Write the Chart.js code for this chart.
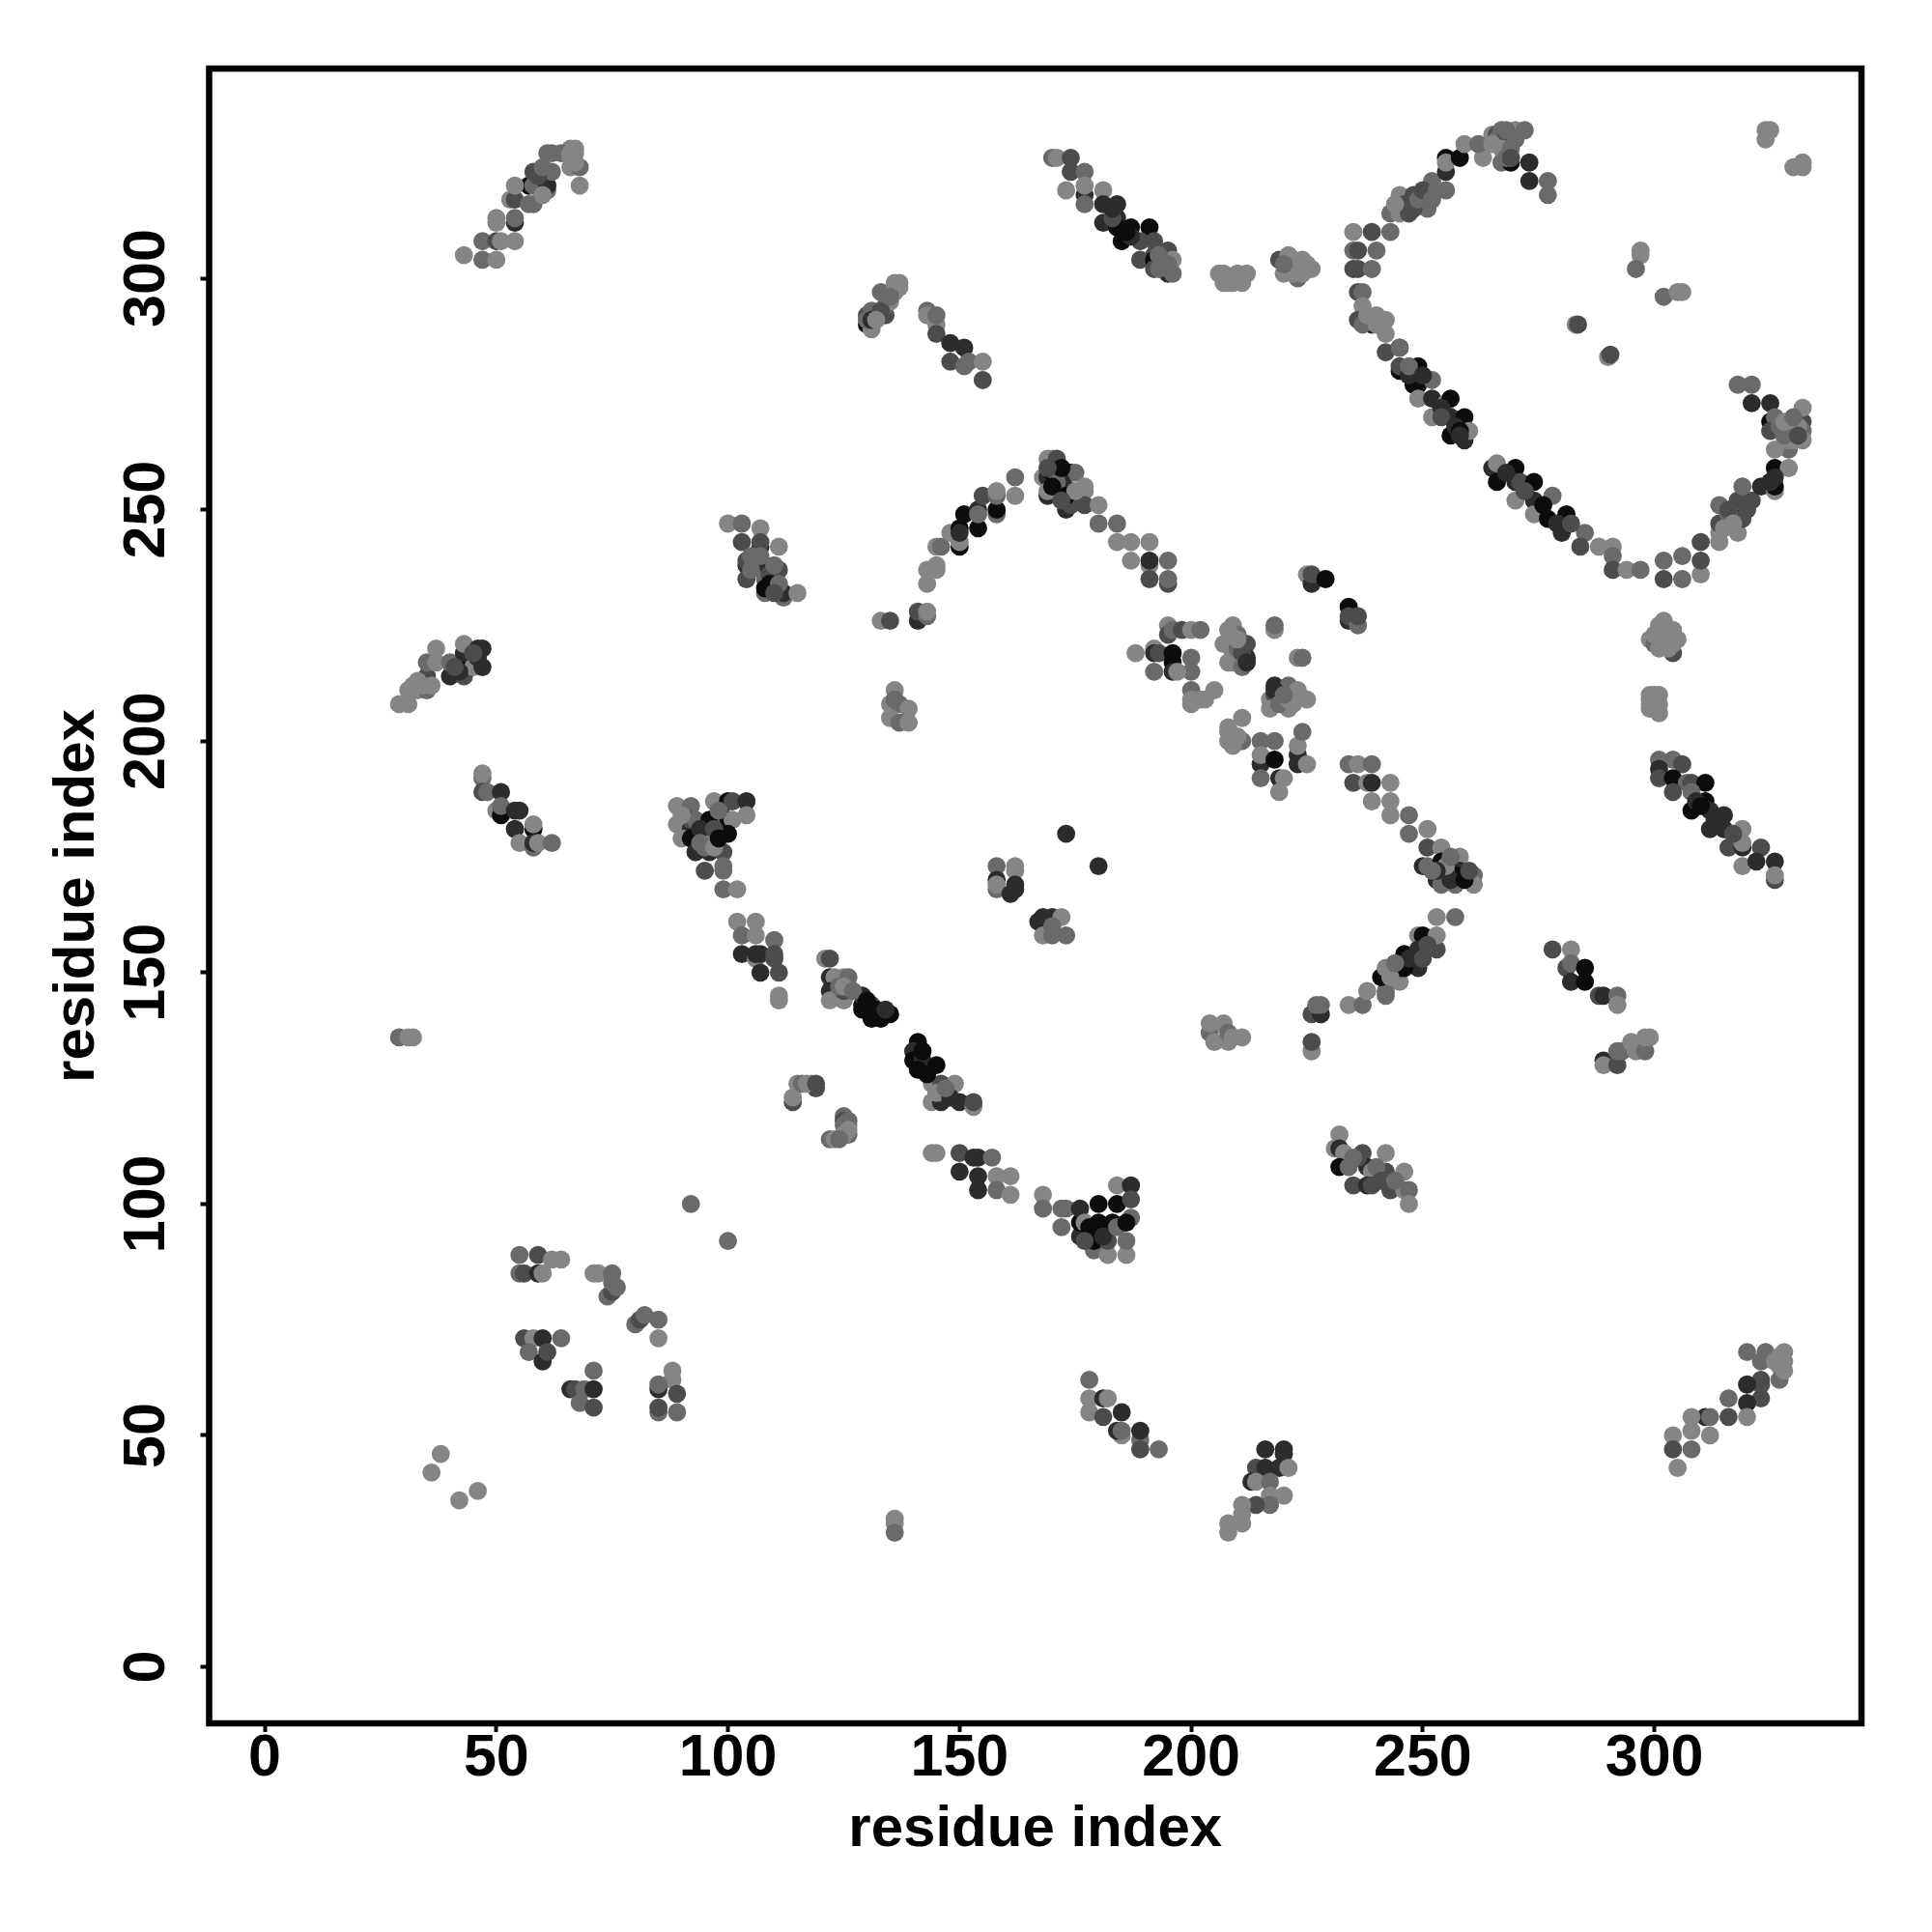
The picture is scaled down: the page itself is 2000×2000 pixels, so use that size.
<!DOCTYPE html>
<html>
<head>
<meta charset="utf-8">
<script src="https://cdn.jsdelivr.net/npm/chart.js@4/dist/chart.umd.min.js"></script>
<style>
  html, body { margin: 0; padding: 0; background: #fff; }
  #wrap { width: 2000px; height: 2000px; }
</style>
</head>
<body>
<div id="wrap"><canvas id="contactMap" width="2000" height="2000"></canvas></div>
<script>
// tick labels
const xTicks = [0, 50, 100, 150, 200, 250, 300];
const yTicks = [0, 50, 100, 150, 200, 250, 300];

// gray levels, the third value of each point is an index in here
const shades = ['#0c0c0c', '#2c2c2c', '#4c4c4c', '#6a6a6a', '#858585'];

// contacts per region: [x, y, shade], later points lie on top
const underlayUpper = [[59,322,2],[60,318,4],[64,327,3],[66,327,4],[67,327,4],[67,325,4],[66,326,4],[60,324,3],[130,291,3],[131,291,1],[133,293,2],[135,296,3],[132,291,4],[105,240,3],[105,237,3],[107,240,3],[109,236,2],[110,238,3],[109,234,0],[111,234,3],[110,232,2],[172,256,1],[171,256,3],[170,255,0],[173,253,0],[175,254,4],[172,259,0],[169,259,2],[172,252,2],[187,309,1],[186,310,0],[183,313,2],[183,315,1],[193,305,3],[193,302,3],[195,303,3],[208,300,4],[209,300,4],[207,301,4],[208,299,4],[209,299,4],[221,302,4],[222,304,4],[222,301,4],[224,301,4],[220,303,3],[225,303,4]];
const underlayRing = [[247,279,1],[247,281,3],[254,272,1],[254,270,2],[257,268,1],[258,267,0],[258,266,1],[250,279,1],[268,258,1],[272,254,2],[276,251,0],[279,247,1],[282,247,2],[316,249,3],[316,250,2],[315,246,4],[317,247,4],[320,250,2],[326,257,1],[325,256,1],[246,316,2],[248,315,2],[244,316,4],[249,317,3],[250,319,2],[253,319,3],[252,317,3],[237,290,3],[238,292,4],[240,290,4],[330,266,3],[331,268,4],[329,265,4],[328,266,3],[331,266,2],[327,268,3],[328,269,4],[330,270,3],[266,330,3],[268,330,3],[268,331,2],[267,328,4],[269,328,3],[268,326,3],[265,329,4],[268,332,3],[270,330,3],[269,326,2]];
const underlayMiddle = [[218,211,1],[217,207,4],[219,208,3],[221,209,4],[222,208,4],[220,210,3],[209,201,4],[208,203,4],[210,201,4],[209,199,4],[208,224,4],[209,219,4],[209,217,4],[210,220,3],[211,219,2],[211,216,3],[212,217,1],[210,222,4],[301,225,4],[302,222,4],[303,222,4],[301,220,4],[303,220,4],[300,223,4],[305,222,4],[299,208,4],[301,208,4],[300,210,4],[300,207,4],[33,213,4],[34,212,4],[36,212,4],[42,215,1],[41,216,2],[46,218,1],[45,219,2],[94,181,1],[97,181,2],[98,185,3],[90,184,4],[94,178,3],[97,177,4],[98,179,0],[255,172,2],[256,170,1],[255,173,4],[259,170,0],[253,172,1],[252,172,3],[256,175,3],[260,172,2],[309,187,1],[310,186,0],[313,183,1],[317,180,2]];
const underlayLower = [[124,147,3],[125,147,4],[127,146,3],[130,144,0],[132,142,0],[134,142,1],[146,124,2],[145,124,4],[148,123,1],[143,128,0],[142,133,0],[147,125,3],[116,126,3],[117,126,4],[119,126,2],[125,118,2],[126,118,3],[125,117,3],[126,116,4],[125,115,4],[124,114,3],[178,95,0],[177,92,2],[181,93,1],[184,95,3],[186,96,0],[247,153,1],[243,149,4],[244,152,3],[251,156,2],[250,153,2],[236,110,2],[235,110,3],[240,108,3],[241,105,2],[244,105,3],[327,66,4],[328,66,4],[328,64,4],[326,66,4],[328,68,4]];
const topLeft = [[43,305,4],[47,304,3],[50,304,4],[47,308,3],[50,308,2],[51,308,4],[54,308,4],[50,312,4],[50,313,4],[54,312,1],[54,313,3],[53,317,4],[54,317,2],[57,316,3],[58,316,3],[57,320,0],[54,320,4],[58,320,3],[61,319,3],[61,320,1],[58,323,2],[62,323,3],[61,327,3],[62,327,3],[65,327,4],[66,328,4],[67,328,4],[66,324,4],[68,324,3],[68,320,4]];
const hairpin130 = [[130,290,0],[130,292,2],[131,293,3],[134,292,2],[134,294,3],[131,289,4],[135,295,4],[133,297,3],[136,297,4],[136,299,4],[137,298,4],[137,299,4]];
const patch136 = [[136,211,4],[135,208,4],[137,208,3],[136,209,3],[139,207,4],[135,205,4],[137,204,3],[139,204,4]];
const strand143 = [[143,293,3],[143,292,4],[145,290,4],[145,292,3],[145,288,2],[148,286,1],[151,285,1],[148,282,2],[151,281,3],[152,282,3],[155,282,4],[155,278,2]];
const block100 = [[100,247,4],[103,247,3],[107,246,4],[103,243,2],[107,242,1],[107,243,2],[111,242,4],[104,238,1],[104,239,2],[108,238,1],[111,237,2],[104,235,2],[108,232,3],[108,235,3],[108,233,0],[112,231,3],[112,232,1],[115,232,4]];
const archLeft = [[133,226,4],[135,226,2],[141,226,1],[141,228,2],[143,227,3],[143,228,4],[143,234,4],[143,237,4],[145,237,4],[145,238,4],[145,242,4],[146,242,3],[148,245,4],[150,242,0],[150,243,4],[150,246,0],[150,245,1],[151,249,0],[154,246,0],[154,250,1],[154,249,3],[158,249,3],[158,250,0],[155,253,2],[158,253,3],[158,254,4],[162,253,4],[162,257,3]];
const archTop = [[169,261,4],[170,261,4],[171,261,2],[168,257,4],[169,253,1],[169,257,1],[170,258,0],[169,254,4],[174,258,0],[175,258,3],[171,254,4],[174,254,0],[173,250,1],[174,251,2],[177,254,4],[177,255,4],[177,251,2],[180,251,4]];
const archRight = [[180,247,3],[184,247,3],[184,243,4],[187,243,4],[191,243,4],[187,239,4],[191,238,4],[191,239,1],[195,239,3],[191,235,2],[195,234,2],[195,235,3]];
const pairs228 = [[225,236,4],[226,234,1],[226,236,2],[229,235,0],[234,229,0],[234,226,1],[234,227,2],[236,225,3],[236,227,2]];
const grid195 = [[195,225,4],[195,223,2],[196,224,3],[198,224,2],[200,224,4],[202,224,3],[188,219,4],[192,220,4],[192,219,1],[193,219,2],[196,217,0],[196,219,0],[200,218,3],[200,215,3],[192,215,3],[196,215,1],[197,215,4],[200,211,3],[205,211,4],[200,208,4],[200,209,4],[202,209,4],[203,209,4]];
const grid209 = [[209,225,4],[207,221,4],[209,221,4],[210,223,3],[212,221,2],[208,217,4],[210,217,3],[212,218,1],[218,224,4],[218,225,3],[223,218,4],[224,218,3],[217,209,4],[218,210,2],[218,212,1],[221,207,4],[221,212,3],[220,209,3],[223,211,4],[225,209,4]];
const grid215 = [[211,205,4],[208,202,4],[208,200,4],[211,200,3],[215,200,3],[218,200,3],[215,195,1],[215,197,4],[218,196,0],[215,192,3],[219,192,1],[220,192,4],[219,189,4],[223,197,1],[223,195,1],[223,199,4],[224,202,3],[225,195,4]];
const centre170 = [[173,180,1],[180,173,1],[158,173,3],[158,170,1],[158,168,3],[158,169,4],[162,173,4],[162,172,4],[162,169,1],[162,168,1],[161,167,1]];
const cluster166 = [[167,161,1],[168,162,1],[170,162,1],[172,162,4],[168,158,4],[170,160,3],[170,158,3],[173,158,3]];
const strand29 = [[29,208,4],[31,208,4],[31,211,4],[32,212,4],[33,211,4],[35,211,3],[35,214,2],[35,217,3],[37,217,4],[37,220,4],[40,214,1],[40,217,3],[43,214,2],[43,216,0],[43,219,1],[43,221,4],[45,216,4],[46,220,1],[47,220,1],[47,216,1]];
const strand47 = [[47,192,3],[47,193,4],[47,189,2],[48,189,3],[51,189,1],[50,185,4],[51,184,0],[51,186,3],[54,185,1],[55,185,1],[54,181,1],[58,181,0],[58,182,4],[55,178,4],[58,177,3],[58,178,1],[59,178,4],[62,178,3]];
const vBlock = [[89,186,4],[92,186,3],[97,187,4],[100,187,0],[101,187,2],[104,187,1],[104,184,4],[89,182,4],[92,181,1],[92,183,2],[93,183,3],[96,183,0],[100,183,0],[101,183,4],[90,179,4],[92,179,0],[96,179,0],[96,180,4],[100,180,0],[93,176,1],[96,176,1],[95,177,3],[99,176,2],[95,172,2],[99,172,3],[99,173,3],[99,168,3],[102,168,4]];
const block102 = [[102,161,4],[106,161,4],[103,158,3],[106,158,4],[110,157,3],[103,154,1],[106,153,4],[106,154,1],[107,154,1],[110,154,2],[110,153,2],[107,150,1],[111,150,2],[111,144,4],[111,145,4]];
const single136 = [[29,136,3],[31,136,4],[32,136,4],[136,32,4],[136,31,4],[136,29,3],[92,100,3],[100,92,3]];
const diag121 = [[121,153,4],[122,153,2],[122,149,1],[123,149,4],[125,149,4],[126,149,3],[122,146,1],[122,144,4],[125,144,4],[124,145,4],[125,146,2],[129,143,0],[129,145,1],[131,143,2],[129,142,0],[131,140,0],[133,141,1],[133,140,0],[135,141,0]];
const diag141 = [[141,135,0],[140,133,1],[140,131,0],[142,131,1],[141,129,0],[145,130,0],[144,126,4],[146,126,2],[149,126,4],[144,122,4],[146,122,1],[150,122,1],[153,121,4],[153,122,2]];
const side114 = [[115,126,4],[118,126,4],[119,125,2],[114,122,2],[114,123,4],[125,119,3],[126,117,4],[126,115,3],[122,114,3],[123,114,4]];
const diag145 = [[144,111,4],[145,111,4],[150,111,2],[150,107,1],[153,110,1],[154,110,1],[157,110,3],[154,106,1],[154,103,1],[158,106,4],[158,103,3],[161,106,4],[161,102,4]];
const vBlock180 = [[168,102,4],[168,99,3],[172,99,3],[173,99,3],[172,95,3],[176,93,1],[176,96,0],[176,99,1],[177,96,4],[180,100,0],[180,96,0],[179,90,3],[179,92,0],[182,89,4],[182,92,2],[184,100,0],[183,96,0],[184,104,4],[187,104,1],[187,97,3],[187,101,2],[186,89,4],[186,92,3]];
const block204 = [[204,137,3],[204,139,4],[207,139,4],[205,135,4],[208,135,4],[208,137,3],[209,136,4],[211,136,4],[226,133,4],[226,135,2],[226,141,2],[228,141,1],[227,143,3],[228,143,3]];
const strand234 = [[234,143,4],[237,143,3],[238,146,4],[242,145,3],[242,146,3],[241,149,0],[242,151,4],[245,148,4],[246,154,0],[245,151,0],[249,151,1],[246,151,0],[249,158,4],[250,158,0],[249,155,1],[253,155,2],[253,158,4],[253,162,4],[257,162,3]];
const tail278 = [[278,155,2],[282,155,4],[281,151,2],[282,152,3],[282,148,1],[285,151,0],[285,148,0],[288,145,2],[289,145,1],[292,145,3],[292,143,4]];
const block232 = [[232,115,4],[231,112,4],[232,112,1],[233,111,4],[232,108,0],[234,108,3],[237,111,2],[242,111,4],[238,108,1],[239,107,4],[242,107,2],[246,107,4],[235,104,2],[238,104,1],[239,104,2],[243,103,2],[246,103,4],[247,103,3],[247,100,4]];
const block290 = [[289,131,1],[289,130,4],[292,130,2],[292,133,3],[293,133,3],[295,135,4],[296,133,4],[298,133,3],[298,136,4],[299,136,4]];
const diag301 = [[301,196,3],[304,196,3],[301,194,1],[306,195,2],[301,192,2],[304,192,0],[307,191,3],[308,191,2],[311,191,0],[304,189,2],[308,189,3],[311,187,0],[308,185,0],[312,185,1],[315,184,1],[312,181,1],[315,181,1],[319,181,4],[316,177,2],[319,177,1],[319,178,4],[323,177,2],[319,173,4],[322,174,1],[326,174,1],[326,170,2],[326,171,4]];
const patch301 = [[302,226,4],[299,222,4],[300,221,3],[304,219,2],[302,224,4],[304,224,4],[304,221,4],[299,210,4],[301,210,4],[299,209,4],[299,207,4],[301,206,4]];
const curve234 = [[234,195,3],[236,195,4],[239,195,3],[235,191,2],[238,191,4],[239,191,1],[243,191,4],[239,187,4],[243,187,4],[243,184,4],[247,184,3],[247,180,3],[251,181,4],[251,177,2],[254,177,4],[250,173,1],[251,173,3],[254,174,0],[258,175,4],[258,172,1],[257,171,0],[253,170,1],[254,169,3],[257,169,3],[261,171,3],[261,169,4]];
const ringLeft = [[235,310,4],[239,310,2],[243,310,3],[235,306,3],[236,306,2],[240,306,3],[235,302,2],[236,302,2],[239,302,3],[236,297,2],[237,297,3],[237,294,4],[236,291,2],[239,290,1],[240,292,4],[242,291,4],[242,288,4],[242,284,2],[245,285,1],[245,285,3]];
const ringDiag = [[245,280,0],[245,281,2],[249,281,0],[248,277,0],[249,277,0],[249,274,4],[252,278,3],[252,274,1],[255,273,4],[256,274,0],[252,270,4],[256,270,1],[259,270,0],[256,266,0],[259,265,1],[260,267,4]];
const ringBottom = [[265,259,1],[266,260,4],[266,256,0],[270,259,0],[270,256,1],[271,256,2],[274,256,0],[270,252,4],[274,252,1],[278,253,3],[274,249,4],[277,248,0],[281,249,0],[280,245,1],[285,245,3],[284,242,2],[288,242,4],[291,242,4],[291,240,3],[291,237,2],[294,237,4],[297,237,3],[302,239,3],[302,235,2],[306,240,3],[306,235,3],[310,236,4],[310,239,2],[310,243,2],[314,243,4]];
const ringRight = [[314,245,4],[318,245,4],[314,247,2],[314,251,3],[318,248,0],[319,248,2],[318,252,2],[321,252,2],[319,255,3],[323,255,1],[326,254,4],[326,255,0],[326,259,0],[329,259,4],[329,263,3],[326,263,4],[321,273,1],[325,273,1],[318,277,3],[321,277,3],[325,269,0],[326,270,3],[325,267,2],[329,267,4],[329,269,2],[332,269,2],[332,267,3],[332,272,4],[332,265,4],[330,265,4]];
const isolated = [[297,305,4],[297,306,4],[296,302,3],[302,296,3],[305,297,4],[306,297,4],[283,290,4],[283.5,290,2],[290,283,4],[290.5,283.5,2],[324,330,4],[324,332,4],[325,332,4],[330,324,4],[332,324,4],[332,325,4]];
const ringTop = [[243,314,3],[245,314,4],[247,314,2],[245,318,4],[248,317,0],[248,318,2],[251,315,3],[251,318,3],[252,321,3],[255,319,3],[255,323,1],[255,326,0],[255,325,4],[258,326,0],[259,329,4],[263,326,4],[262,329,3],[267,325,3],[269,325,0],[269,326,4],[273,325,1],[273,321,1],[277,321,3],[277,318,3],[265,331,4],[266,331,2],[267,332,3],[267,329,3],[269,329,2],[270,332,4],[272,332,3]];
const diag170 = [[170,326,3],[171,326,4],[174,326,2],[174,323,2],[177,323,3],[173,319,4],[177,318,1],[177,320,4],[177,316,3],[181,319,4],[181,316,1],[184,316,1],[181,312,1],[184,313,1],[184,311,0],[187,311,0],[185,308,0],[191,311,0],[189,308,2],[192,308,2],[192,305,2],[189,304,2],[192,304,0],[192,302,2],[195,306,2],[195,301,1],[196,304,4],[196,301,3]];
const patch206 = [[206,301,4],[210,301,4],[207,299,4],[211,299,4],[212,301,4],[219,304,2],[221,305,4],[224,304,4],[220,301,4],[223,300,3],[226,302,4],[223,302,4]];
const lowerLeft = [[55,89,3],[59,89,2],[62,88,4],[64,88,4],[55,85,3],[56,85,2],[59,85,1],[60,85,4],[71,85,4],[72,85,4],[75,85,3],[74,80,3],[75,81,2],[75,83,3],[76,82,3],[80,74,3],[81,75,2],[82,76,3],[85,75,3],[85,71,4]];
const lowerLeft2 = [[56,71,2],[58,71,4],[60,71,1],[64,71,3],[57,68,3],[60,66,1],[61,68,2],[71,64,3],[66,60,1],[67,60,2],[69,60,3],[71,60,1],[68,57,3],[71,56,2],[88,64,4],[88,62,4],[85,60,1],[85,61,3],[89,59,2],[85,55,3],[85,56,2],[89,55,3],[38,46,4],[36,42,4],[46,38,4],[42,36,4]];
const lower178 = [[178,62,3],[178,58,4],[181,58,1],[182,58,4],[178,55,4],[181,54,2],[185,55,1],[185,50,4],[184,51,1],[185,51,3],[189,49,3],[189,51,1],[189,47,2],[193,47,3]];
const lower215 = [[216,47,1],[220,47,1],[220,46,1],[214,43,2],[216,43,1],[219,43,1],[221,43,4],[213,40,1],[214,40,4],[217,40,3],[217,37,4],[220,37,4],[217,35,3],[214,35,2],[211,35,4],[211,33,4],[211,31,4],[208,31,4],[208,29,4]];
const lower305 = [[320,68,3],[324,68,3],[323,66,3],[327,67,4],[327,65,4],[327,62,3],[323,62,2],[323,61,2],[320,61,1],[323,58,2],[320,57,1],[316,58,3],[316,54,2],[320,54,4],[311,54,1],[312,54,3],[308,54,4],[308,51,4],[308,47,3],[304,50,4],[304,47,2],[305,43,4],[312,50,4]];

const regions = [underlayUpper, underlayRing, underlayMiddle, underlayLower, topLeft, hairpin130, patch136, strand143, block100, archLeft, archTop, archRight, pairs228, grid195, grid209, grid215,
  centre170, cluster166, strand29, strand47, vBlock, block102, single136, diag121, diag141, side114, diag145, vBlock180,
  block204, strand234, tail278, block232, block290, diag301, patch301, curve234, ringLeft, ringDiag, ringBottom, ringRight,
  isolated, ringTop, diag170, patch206, lowerLeft, lowerLeft2, lower178, lower215, lower305];

const fontFamily = "'Liberation Sans', Arial, sans-serif";

// R風の太い枠
const framePlugin = {
  id: 'frame',
  afterDatasetsDraw(chart) {
    const { ctx, chartArea: a } = chart;
    ctx.save();
    ctx.strokeStyle = '#000';
    ctx.lineWidth = 6.5;
    ctx.lineJoin = 'miter';
    ctx.strokeRect(a.left, a.top, a.right - a.left, a.bottom - a.top);
    ctx.restore();
  }
};

new Chart(document.getElementById('contactMap').getContext('2d'), {
  type: 'scatter',
  data: {
    datasets: regions.map(pts => ({
      data: pts.map(p => ({ x: p[0], y: p[1] })),
      pointRadius: 9.4,
      pointBorderWidth: 0,
      pointBackgroundColor: pts.map(p => shades[p[2]])
    }))
  },
  plugins: [framePlugin],
  options: {
    responsive: false,
    animation: false,
    layout: { padding: { top: 71, right: 73, left: 0, bottom: 0 } },
    plugins: { legend: { display: false }, tooltip: { enabled: false } },
    scales: {
      x: {
        type: 'linear',
        min: -12,
        max: 344.7,
        afterBuildTicks: s => { s.ticks = xTicks.map(v => ({ value: v })); },
        afterFit: s => { s.height = 216; },
        border: { display: false },
        grid: { drawOnChartArea: false, drawTicks: true, tickLength: 9, tickWidth: 4, tickColor: '#000' },
        ticks: { color: '#000', padding: -8, maxRotation: 0, font: { family: fontFamily, weight: 'bold', size: 61 } },
        title: { display: true, text: 'residue index', color: '#000', padding: { top: 0, bottom: 70 }, font: { family: fontFamily, weight: 'bold', size: 60 } }
      },
      y: {
        type: 'linear',
        min: -12.2,
        max: 345.3,
        afterBuildTicks: s => { s.ticks = yTicks.map(v => ({ value: v })); },
        afterFit: s => { s.width = 216.5; },
        border: { display: false },
        grid: { drawOnChartArea: false, drawTicks: true, tickLength: 9, tickWidth: 4, tickColor: '#000' },
        ticks: { color: '#000', padding: 3, minRotation: 90, maxRotation: 90, crossAlign: 'center', font: { family: fontFamily, weight: 'bold', size: 61 } },
        title: { display: true, text: 'residue index', color: '#000', padding: { top: 44, bottom: 0 }, font: { family: fontFamily, weight: 'bold', size: 60 } }
      }
    }
  }
});
</script>
</body>
</html>
